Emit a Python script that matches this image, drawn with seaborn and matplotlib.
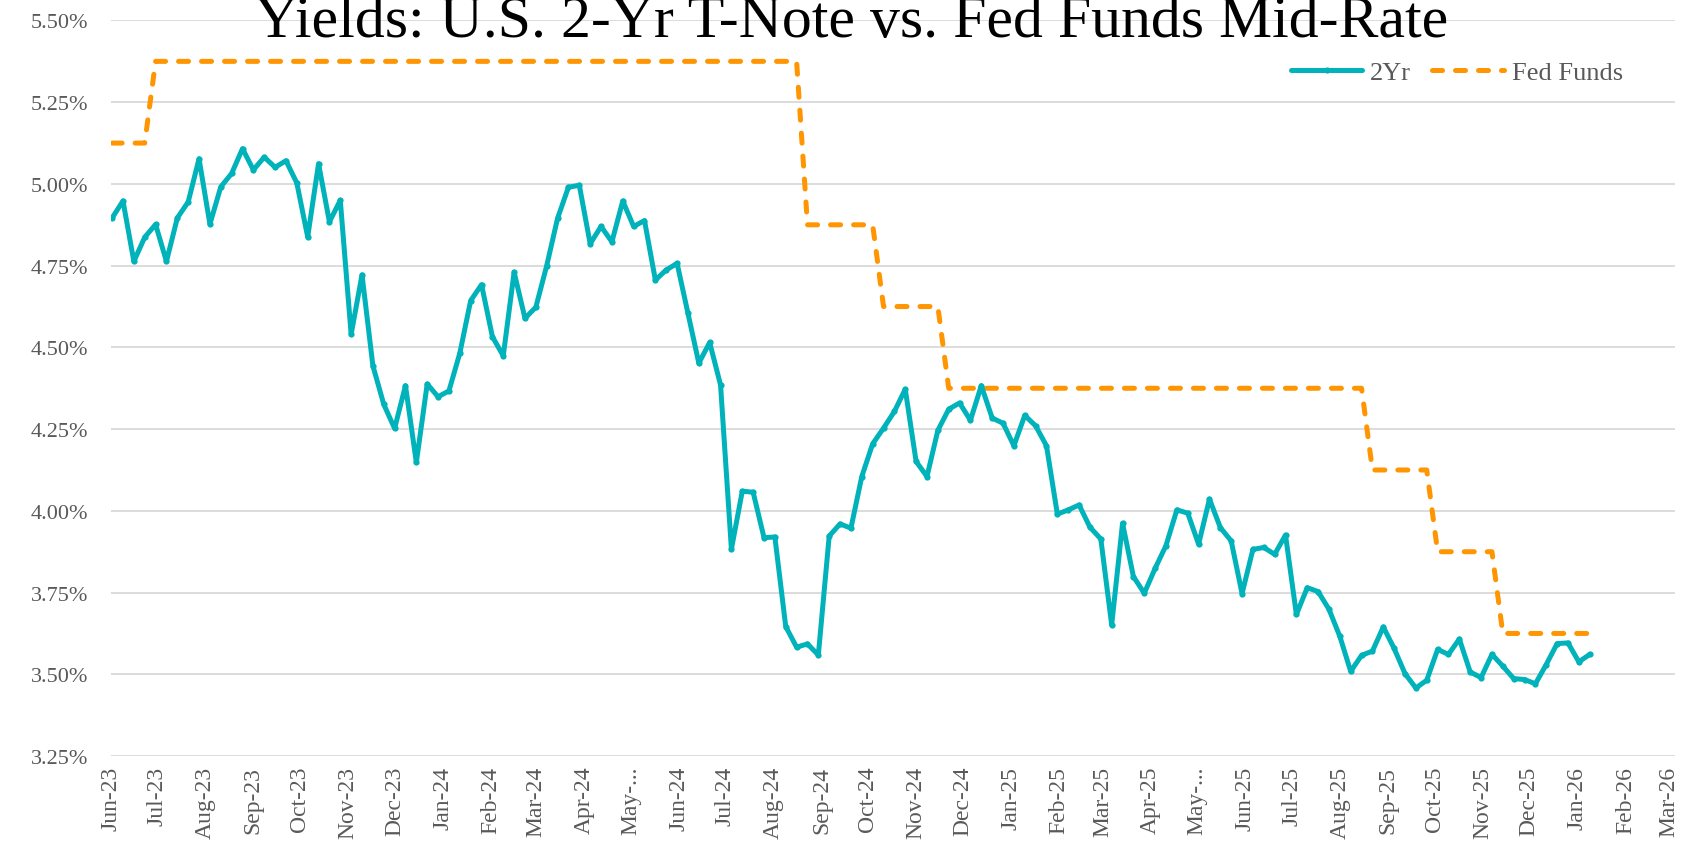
import numpy as np
import pandas as pd
import matplotlib
matplotlib.use("Agg")
import matplotlib.pyplot as plt
import matplotlib.ticker as mticker
import seaborn as sns

# ---- data (weekly) ----
start_date = "2023-06-02"

two_year = [
    4.896, 4.948, 4.763, 4.837, 4.876, 4.763, 4.896, 4.945, 5.077, 4.877,
    4.991, 5.032, 5.108, 5.043, 5.082, 5.051, 5.071, 5.003, 4.838, 5.062,
    4.884, 4.950, 4.540, 4.722, 4.444, 4.326, 4.252, 4.383, 4.148, 4.388,
    4.349, 4.367, 4.482, 4.643, 4.692, 4.533, 4.474, 4.730, 4.589, 4.623,
    4.750, 4.895, 4.990, 4.996, 4.817, 4.870, 4.823, 4.948, 4.870, 4.888,
    4.706, 4.737, 4.757, 4.605, 4.452, 4.515, 4.385, 3.883, 4.060, 4.057,
    3.918, 3.920, 3.646, 3.583, 3.593, 3.559, 3.923, 3.960, 3.947, 4.105,
    4.205, 4.253, 4.304, 4.372, 4.151, 4.105, 4.246, 4.311, 4.330, 4.277,
    4.383, 4.284, 4.268, 4.199, 4.292, 4.260, 4.199, 3.990, 4.003, 4.018,
    3.950, 3.914, 3.651, 3.962, 3.799, 3.748, 3.824, 3.894, 4.003, 3.993,
    3.898, 4.036, 3.949, 3.908, 3.747, 3.882, 3.888, 3.867, 3.926, 3.683,
    3.765, 3.753, 3.699, 3.616, 3.509, 3.558, 3.571, 3.645, 3.579, 3.502,
    3.458, 3.482, 3.576, 3.561, 3.608, 3.507, 3.490, 3.561, 3.525, 3.487,
    3.484, 3.471, 3.530, 3.594, 3.596, 3.538, 3.561,
]

# fed funds mid-rate: level and number of weeks it was held
fed_levels = [5.125, 5.375, 4.875, 4.625, 4.375, 4.125, 3.875, 3.625]
fed_weeks = [4, 60, 7, 6, 39, 6, 6, 9]

month_labels = [
    "Jun-23", "Jul-23", "Aug-23", "Sep-23", "Oct-23", "Nov-23", "Dec-23",
    "Jan-24", "Feb-24", "Mar-24", "Apr-24", "May-...", "Jun-24", "Jul-24",
    "Aug-24", "Sep-24", "Oct-24", "Nov-24", "Dec-24", "Jan-25", "Feb-25",
    "Mar-25", "Apr-25", "May-...", "Jun-25", "Jul-25", "Aug-25", "Sep-25",
    "Oct-25", "Nov-25", "Dec-25", "Jan-26", "Feb-26", "Mar-26",
]

title = "Yields: U.S. 2-Yr T-Note vs. Fed Funds Mid-Rate"

# ---- frames ----
dates = pd.date_range(start_date, periods=len(two_year), freq="7D")
df = pd.DataFrame({
    "date": dates,
    "2Yr": two_year,
    "Fed Funds": np.repeat(fed_levels, fed_weeks),
})
month_ticks = pd.date_range("2023-06-01", periods=len(month_labels), freq="MS")

# ---- style ----
sns.set_theme(style="white")
plt.rcParams["font.family"] = ["Liberation Serif", "DejaVu Serif"]

teal = "#00B2B9"
orange = "#FF9500"
gray_txt = "#595959"

fig = plt.figure(figsize=(16.83, 8.53), dpi=100)
ax = fig.add_axes([0.0657, 0.1125, 0.9296, 0.8623])

sns.lineplot(data=df, x="date", y="Fed Funds", ax=ax, color=orange, lw=3.6,
             linestyle=(0, (2.0, 2.6)), dash_capstyle="round",
             estimator=None, label="Fed Funds", zorder=2)
sns.lineplot(data=df, x="date", y="2Yr", ax=ax, color=teal, lw=3.6,
             marker="o", markersize=4.5, markeredgewidth=0,
             solid_capstyle="round", solid_joinstyle="round",
             estimator=None, label="2Yr", zorder=3)

# axes
ax.set_ylim(3.25, 5.50)
ax.yaxis.set_major_locator(mticker.MultipleLocator(0.25))
ax.yaxis.set_major_formatter(mticker.FuncFormatter(lambda v, p: f"{v:.2f}%"))
ax.set_xlim(pd.Timestamp("2023-06-01"), pd.Timestamp("2026-03-05"))
ax.set_xticks(month_ticks)
ax.set_xticklabels(month_labels, rotation=90, ha="center", va="top")
ax.set_xlabel("")
ax.set_ylabel("")

ax.grid(axis="y", color="#D9D9D9", lw=1.3)
ax.grid(axis="x", visible=False)
for s in ax.spines.values():
    s.set_visible(False)
ax.tick_params(axis="y", length=0, pad=16, labelsize=16, labelcolor=gray_txt)
ax.tick_params(axis="x", length=0, pad=7, labelsize=17, labelcolor=gray_txt)

# legend (2Yr first)
handles, labels = ax.get_legend_handles_labels()
order = [labels.index("2Yr"), labels.index("Fed Funds")]
leg = ax.legend([handles[i] for i in order], [labels[i] for i in order],
                loc="center right", bbox_to_anchor=(0.972, 0.914),
                bbox_transform=fig.transFigure, ncol=2, frameon=False,
                fontsize=19, handlelength=2.7, handletextpad=0.3,
                columnspacing=0.8, borderpad=0)
for t in leg.get_texts():
    t.set_color(gray_txt)

# title, clipped by the top edge like the original
fig.text(0.506, 1 - 37 / 853, title, ha="center", va="baseline",
         fontsize=43, color="black")

fig.savefig("out.png", dpi=100)
